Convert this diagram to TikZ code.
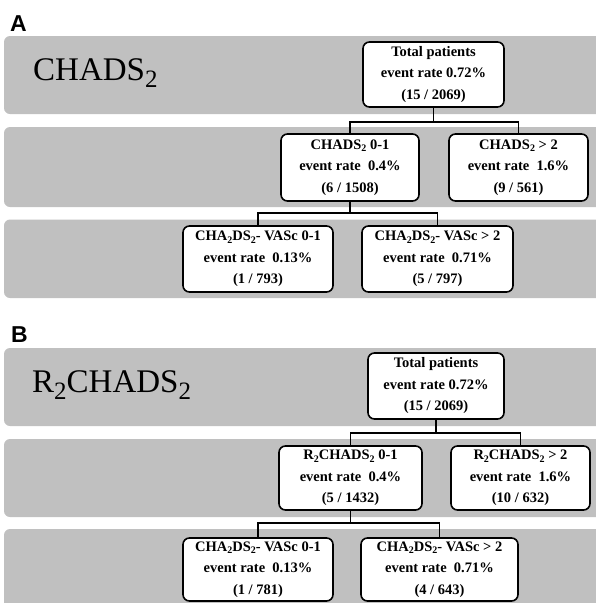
\documentclass[tikz,border=0pt]{standalone}
\usepackage{fontspec}
\setmainfont{Liberation Serif}
\newfontfamily\panelfont{Liberation Sans}
\definecolor{bandgray}{RGB}{192,192,192}
\newcommand{\bsub}[1]{\raisebox{-2.6pt}{\fontsize{10}{10}\selectfont #1}}
\newcommand{\tsub}[1]{\raisebox{-7.5pt}{\fontsize{25}{25}\selectfont #1}}
\newcommand{\gap}{\hspace{0.5em}}
\begin{document}
\begin{tikzpicture}[x=1pt,y=-1pt,
  box/.style={draw=black, line width=1.6pt, fill=white, rounded corners=6.5pt, align=center, inner sep=0pt,
    font=\bfseries\fontsize{14.5}{21.5}\selectfont},
  band/.style={fill=bandgray, rounded corners=6pt},
  link/.style={draw=black, line width=1.3pt},
  title/.style={anchor=base west, inner sep=0pt, font=\fontsize{33}{33}\selectfont},
  panel/.style={anchor=base west, inner sep=0pt, font=\panelfont\bfseries\fontsize{23}{23}\selectfont}]
\useasboundingbox (0,0) rectangle (595,603);
\fill[white] (0,0) rectangle (595,603);
% bands
\fill[band] (4,36) rectangle (612,114);
\fill[band] (4,127) rectangle (612,207);
\fill[band] (4,219.5) rectangle (612,298);
\fill[band] (4,348) rectangle (612,426);
\fill[band] (4,439) rectangle (612,517);
\fill[band] (4,529) rectangle (612,620);
% panel labels and titles
\node[panel] (labA) at (10,31.5) {A};
\node[panel] (labB) at (11,342) {B};
\node[title] (tiA) at (33,80) {CHADS\tsub{2}};
\node[title] (tiB) at (32,392) {R\tsub{2}CHADS\tsub{2}};
% panel A boxes
\node[box, minimum width=141pt, minimum height=65pt] (tA) at (433.5,74.5) {Total patients\\event rate 0.72\%\\(15 / 2069)};
\node[box, minimum width=138pt, minimum height=67pt] (cA1) at (350,167.5) {CHADS\bsub{2} 0-1\\event rate\gap 0.4\%\\(6 / 1508)};
\node[box, minimum width=139pt, minimum height=67pt] (cA2) at (518.5,167.5) {CHADS\bsub{2} > 2\\event rate\gap 1.6\%\\(9 / 561)};
\node[box, minimum width=150pt, minimum height=66pt] (gA1) at (258,259) {CHA\bsub{2}DS\bsub{2}- VASc 0-1\\event rate\gap 0.13\%\\(1 / 793)};
\node[box, minimum width=151pt, minimum height=66pt] (gA2) at (437.5,259) {CHA\bsub{2}DS\bsub{2}- VASc > 2\\event rate\gap 0.71\%\\(5 / 797)};
% panel B boxes
\node[box, minimum width=136pt, minimum height=66pt] (tB) at (436,386) {Total patients\\event rate 0.72\%\\(15 / 2069)};
\node[box, minimum width=143pt, minimum height=64pt] (cB1) at (350.5,478) {R\bsub{2}CHADS\bsub{2} 0-1\\event rate\gap 0.4\%\\(5 / 1432)};
\node[box, minimum width=139pt, minimum height=64pt] (cB2) at (520.5,478) {R\bsub{2}CHADS\bsub{2} > 2\\event rate\gap 1.6\%\\(10 / 632)};
\node[box, minimum width=150pt, minimum height=63pt] (gB1) at (258,569.5) {CHA\bsub{2}DS\bsub{2}- VASc 0-1\\event rate\gap 0.13\%\\(1 / 781)};
\node[box, minimum width=157pt, minimum height=63pt] (gB2) at (439.5,569.5) {CHA\bsub{2}DS\bsub{2}- VASc > 2\\event rate\gap 0.71\%\\(4 / 643)};
% junctions
\coordinate (jA1) at (433.5,122);
\coordinate (jA2) at (350,213);
\coordinate (jB1) at (436,433);
\coordinate (jB2) at (350.5,523);
% connectors
\draw[link] (tA.south) -- (jA1);
\draw[link] (cA1.north) |- (jA1) -| (cA2.north);
\draw[link] (cA1.south) -- (jA2);
\draw[link] (gA1.north) |- (jA2) -| (gA2.north);
\draw[link] (tB.south) -- (jB1);
\draw[link] (cB1.north) |- (jB1) -| (cB2.north);
\draw[link] (cB1.south) -- (jB2);
\draw[link] (gB1.north) |- (jB2) -| (gB2.north);
\end{tikzpicture}
\end{document}
